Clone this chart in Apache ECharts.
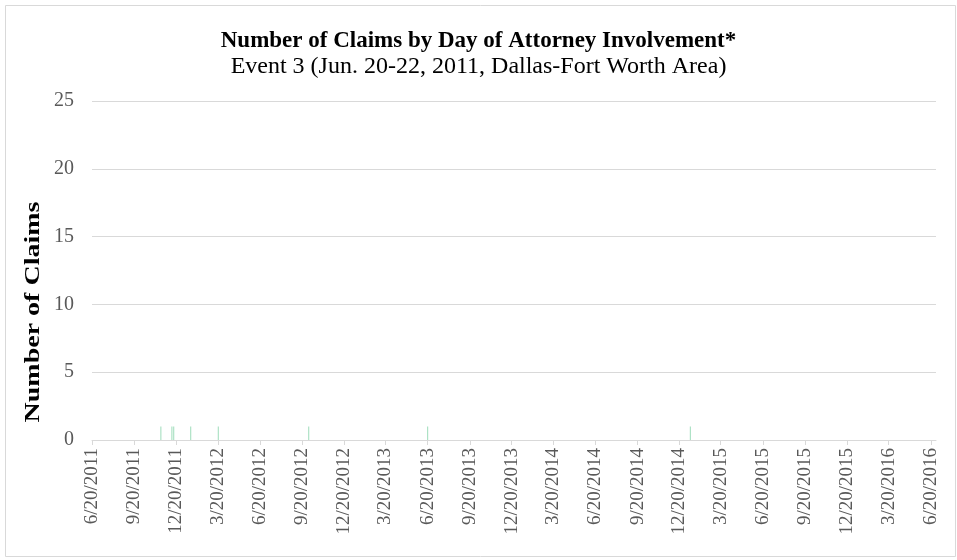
<!DOCTYPE html>
<html>
<head>
<meta charset="utf-8">
<title>Number of Claims by Day of Attorney Involvement</title>
<script src="https://cdn.jsdelivr.net/npm/echarts@6/dist/echarts.min.js"></script>
<style>
  html, body { margin: 0; padding: 0; background: #fff; }
  #chart { width: 957px; height: 560px; }
</style>
</head>
<body>
<div id="chart"></div>
<script>
// axis range (date axis, one category per day)
const startDate = '2011-06-20'
const endDate = '2016-07-01'
const tickMonths = [3, 6, 9, 12]
const tickDay = 20

// claims per day of attorney involvement
const claimDates = [
  '2011-11-17', '2011-12-11', '2011-12-15', '2012-01-21',
  '2012-03-21', '2012-10-04', '2013-06-20', '2015-01-13'
]
const claimCounts = [1, 1, 1, 1, 1, 1, 1, 1]

const yTicks = { min: 0, max: 25, interval: 5 }
const yTitle = 'Number of Claims'

function label(d) {
  return (d.getUTCMonth() + 1) + '/' + d.getUTCDate() + '/' + d.getUTCFullYear()
}

const days = []
const dayDates = []
for (let t = Date.parse(startDate); t <= Date.parse(endDate); t += 86400000) {
  const d = new Date(t)
  days.push(label(d))
  dayDates.push(d)
}

const countByDay = {}
claimDates.forEach((s, i) => { countByDay[label(new Date(Date.parse(s)))] = claimCounts[i] })
const values = days.map(k => (countByDay[k] !== undefined ? countByDay[k] : null))

function isTick(index) {
  const d = dayDates[index]
  return d.getUTCDate() === tickDay && tickMonths.includes(d.getUTCMonth() + 1)
}

const serif = '"Liberation Serif", "Times New Roman", serif'
const chart = echarts.init(document.getElementById('chart'))

chart.setOption({
  backgroundColor: '#fff',
  animation: false,
  title: {
    text: 'Number of Claims by Day of Attorney Involvement*',
    subtext: 'Event 3 (Jun. 20-22, 2011, Dallas-Fort Worth Area)',
    left: 'center',
    top: 25,
    itemGap: 2,
    textStyle: { fontFamily: serif, fontSize: 23, fontWeight: 'bold', color: '#000' },
    subtextStyle: { fontFamily: serif, fontSize: 24, color: '#000' }
  },
  graphic: [
    {
      type: 'rect',
      shape: { x: 5.5, y: 5.5, width: 950, height: 551 },
      style: { fill: 'none', stroke: '#d9d9d9', lineWidth: 1 },
      silent: true
    },
    {
      // y axis title, placed the way the source chart has it
      type: 'text',
      x: 34,
      y: 312,
      rotation: Math.PI / 2,
      scaleX: 1.4,
      silent: true,
      style: {
        text: yTitle,
        fontFamily: serif,
        fontSize: 20,
        fontWeight: 'bold',
        fill: '#000',
        align: 'center',
        verticalAlign: 'middle'
      }
    }
  ],
  grid: { left: 92, right: 21, top: 101, bottom: 120 },
  xAxis: {
    type: 'category',
    data: days,
    boundaryGap: false,
    axisLine: { lineStyle: { color: '#d9d9d9', width: 1 } },
    axisTick: { interval: isTick, length: 5, lineStyle: { color: '#d9d9d9' } },
    axisLabel: {
      interval: isTick,
      rotate: 90,
      margin: 8,
      color: '#595959',
      fontFamily: serif,
      fontSize: 19
    },
    splitLine: { show: false }
  },
  yAxis: {
    type: 'value',
    min: yTicks.min,
    max: yTicks.max,
    interval: yTicks.interval,
    axisLine: { show: false },
    axisTick: { show: false },
    axisLabel: { color: '#595959', fontFamily: serif, fontSize: 20, margin: 18 },
    splitLine: { lineStyle: { color: '#d9d9d9', width: 1 } }
  },
  series: [{
    type: 'bar',
    data: values,
    barWidth: 1,
    itemStyle: { color: '#9ddcba' },
    silent: true
  }]
})
</script>
</body>
</html>
